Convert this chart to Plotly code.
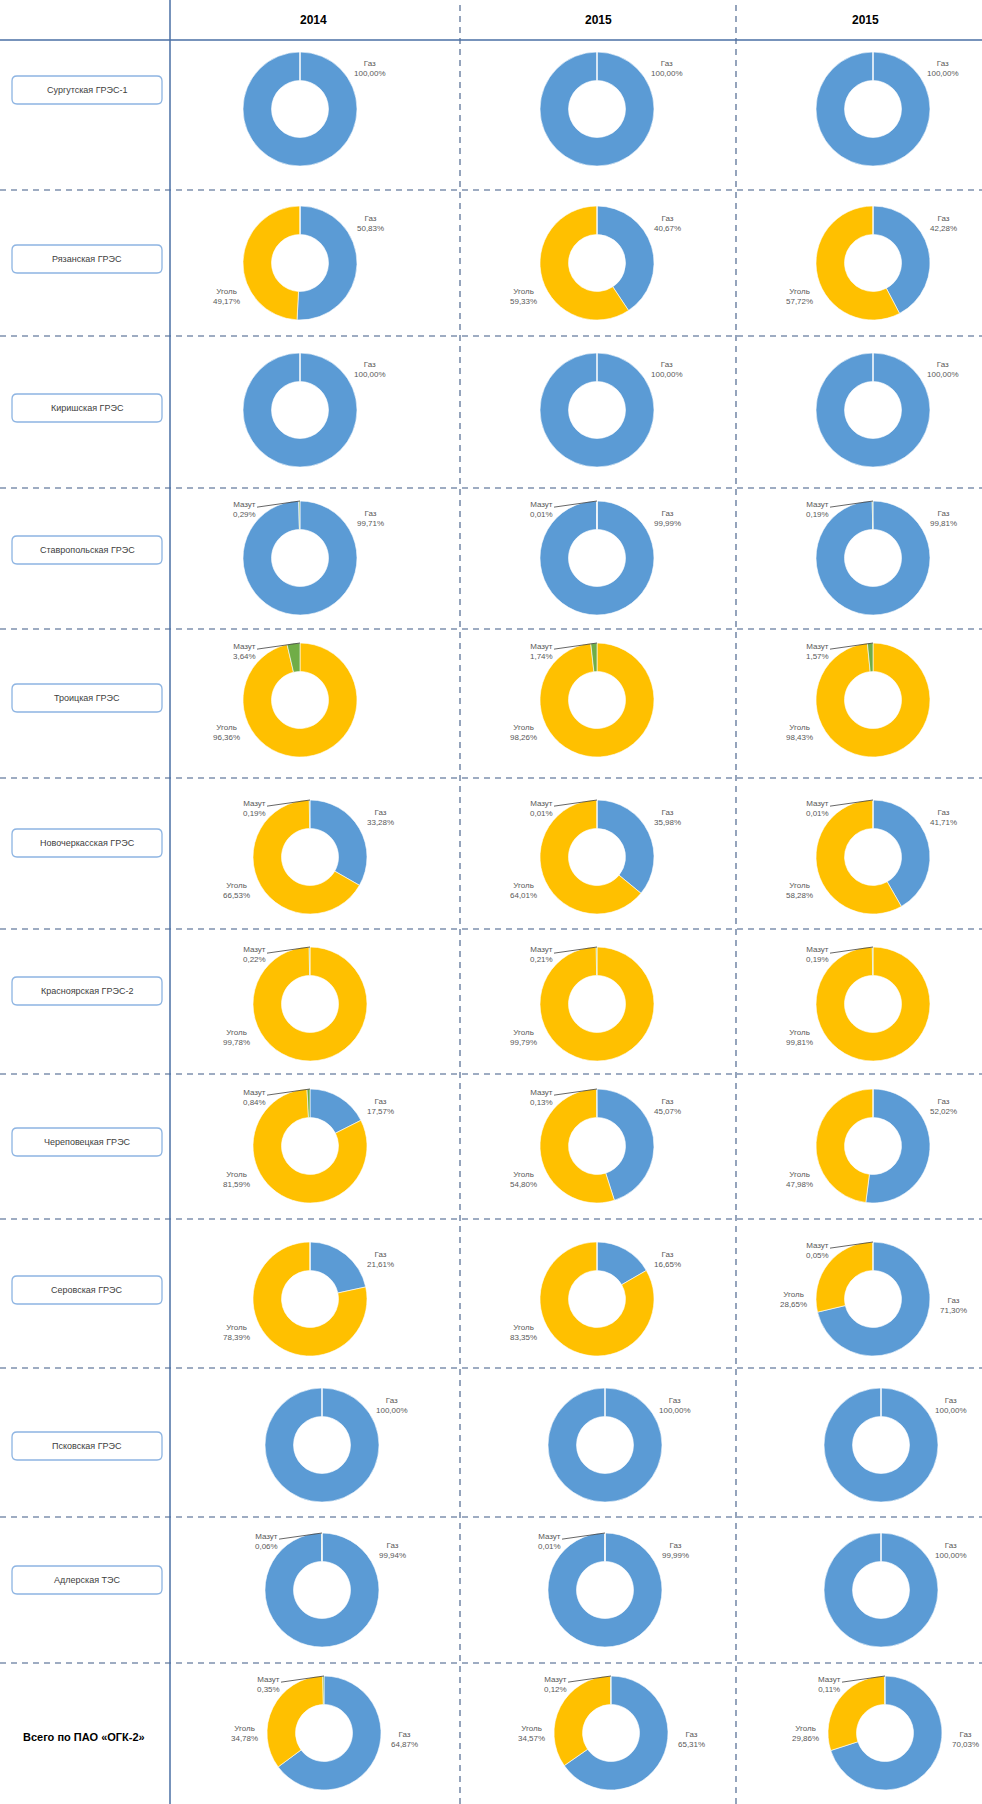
import plotly.graph_objects as go

W, H = 982, 1804

stations = ["Сургутская ГРЭС-1", "Рязанская ГРЭС", "Киришская ГРЭС", "Ставропольская ГРЭС",
            "Троицкая ГРЭС", "Новочеркасская ГРЭС", "Красноярская ГРЭС-2", "Череповецкая ГРЭС",
            "Серовская ГРЭС", "Псковская ГРЭС", "Адлерская ТЭС", "Всего по ПАО «ОГК-2»"]
years = ["2014", "2015", "2015"]
fuels = ["Газ", "Уголь", "Мазут"]

gas = [[100, 100, 100], [50.83, 40.67, 42.28], [100, 100, 100], [99.71, 99.99, 99.81],
       [0, 0, 0], [33.28, 35.98, 41.71], [0, 0, 0], [17.57, 45.07, 52.02],
       [21.61, 16.65, 71.30], [100, 100, 100], [99.94, 99.99, 100], [64.87, 65.31, 70.03]]
coal = [[0, 0, 0], [49.17, 59.33, 57.72], [0, 0, 0], [0, 0, 0],
        [96.36, 98.26, 98.43], [66.53, 64.01, 58.28], [99.78, 99.79, 99.81], [81.59, 54.80, 47.98],
        [78.39, 83.35, 28.65], [0, 0, 0], [0, 0, 0], [34.78, 34.57, 29.86]]
fuel_oil = [[0, 0, 0], [0, 0, 0], [0, 0, 0], [0.29, 0.01, 0.19],
            [3.64, 1.74, 1.57], [0.19, 0.01, 0.01], [0.22, 0.21, 0.19], [0.84, 0.13, 0],
            [0, 0, 0.05], [0, 0, 0], [0.06, 0.01, 0], [0.35, 0.12, 0.11]]

colors = ["#5B9BD5", "#FFC000", "#70AD47"]

# ---- layout geometry (pixels) ----
row_cy = [109, 263, 410, 558, 700, 857, 1004, 1146, 1299, 1445, 1590, 1733]
col_cx = [300, 597, 873]
col_shift = [[0, 0, 0]] * 5 + [[10, 0, 0]] * 4 + [[22, 8, 8], [22, 8, 8], [24, 14, 12]]
R = 57
box_cy = [90, 259, 408, 550, 698, 843, 991, 1142, 1290, 1446, 1580]
total_cy = 1737
sep_y = [190, 336, 488, 629, 778, 929, 1074, 1219, 1368, 1517, 1663]
vdash_x = [460, 736]
header_x = [313, 598, 865]

FONT = "Liberation Sans Narrow, Arial Narrow, Liberation Sans, Arial, sans-serif"
LINE = "#3E5A85"


def X(px):
    return px / W


def Y(py):
    return 1 - py / H


def fmt(v):
    return f"{v:.2f}".replace(".", ",") + "%"


def note(x, y, text, font, **kw):
    d = dict(x=X(x), y=Y(y), xref="paper", yref="paper", text=text, showarrow=False,
             font=font, xanchor="center", yanchor="middle", align="center")
    d.update(kw)
    return d


fig = go.Figure()
annotations = []
shapes = []

for r in range(len(stations)):
    for c in range(len(years)):
        cx = col_cx[c] + col_shift[r][c]
        cy = row_cy[r]
        vals = [gas[r][c], coal[r][c], fuel_oil[r][c]]
        fig.add_trace(go.Pie(
            labels=fuels, values=vals, hole=0.5, sort=False, direction="clockwise",
            rotation=0, textinfo="none", hoverinfo="label+percent",
            marker=dict(colors=colors, line=dict(color="white", width=0.6)),
            domain=dict(x=[X(cx - R), X(cx + R)], y=[Y(cy + R), Y(cy - R)]),
            showlegend=False,
        ))
        gas_dom = gas[r][c] > 60 and coal[r][c] > 0
        lab_font = dict(family=FONT, size=8, color="#595959")
        if gas[r][c] > 0:
            dx, dy = (80, 6) if gas_dom else (70, -40)
            annotations.append(note(cx + dx, cy + dy, f"Газ<br>{fmt(gas[r][c])}", lab_font))
        if coal[r][c] > 0:
            dx, dy = (-80, 0) if gas_dom else (-74, 33)
            annotations.append(note(cx + dx, cy + dy, f"Уголь<br>{fmt(coal[r][c])}", lab_font))
        if fuel_oil[r][c] > 0:
            annotations.append(note(cx, cy - R, f"Мазут<br>{fmt(fuel_oil[r][c])}", lab_font,
                                    showarrow=True, ax=-56, ay=8, arrowhead=0,
                                    arrowwidth=0.8, arrowcolor="#404040"))


def rrect(x0, y0, x1, y1, rad):
    rx, ry = rad / W, rad / H
    a0, a1 = X(x0), X(x1)
    b0, b1 = Y(y1), Y(y0)
    return (f"M {a0+rx},{b1} L {a1-rx},{b1} Q {a1},{b1} {a1},{b1-ry} "
            f"L {a1},{b0+ry} Q {a1},{b0} {a1-rx},{b0} L {a0+rx},{b0} "
            f"Q {a0},{b0} {a0},{b0+ry} L {a0},{b1-ry} Q {a0},{b1} {a0+rx},{b1} Z")


for i, cy in enumerate(box_cy):
    shapes.append(dict(type="path", xref="paper", yref="paper", layer="below",
                       path=rrect(12, cy - 14, 162, cy + 14, 5),
                       line=dict(color="#8DB4E2", width=1.3), fillcolor="white"))
    annotations.append(note(87, cy, stations[i], dict(family=FONT, size=9, color="#404040")))

annotations.append(note(84, total_cy, f"<b>{stations[-1]}</b>",
                        dict(family=FONT, size=11, color="#000000")))

for i, hx in enumerate(header_x):
    annotations.append(note(hx, 20, f"<b>{years[i]}</b>",
                            dict(family=FONT, size=12, color="#000000")))

for sy in sep_y:
    shapes.append(dict(type="line", xref="paper", yref="paper", x0=0, x1=1, y0=Y(sy), y1=Y(sy),
                       layer="below", line=dict(color=LINE, width=1.1, dash="6px,5px")))
for vx in vdash_x:
    shapes.append(dict(type="line", xref="paper", yref="paper", x0=X(vx), x1=X(vx), y0=0, y1=1,
                       layer="below", line=dict(color=LINE, width=1.1, dash="6px,5px")))
shapes.append(dict(type="line", xref="paper", yref="paper", x0=0, x1=1, y0=Y(40), y1=Y(40),
                   layer="below", line=dict(color="#4A6FA5", width=1.5)))
shapes.append(dict(type="line", xref="paper", yref="paper", x0=X(170), x1=X(170), y0=0, y1=1,
                   layer="below", line=dict(color="#4A6FA5", width=1.5)))

fig.update_layout(width=W, height=H, autosize=False,
                  margin=dict(l=0, r=0, t=0, b=0),
                  paper_bgcolor="white", plot_bgcolor="white",
                  shapes=shapes, annotations=annotations, showlegend=False)

fig.write_html("out.html", config={"displayModeBar": False},
               post_script="document.body.style.margin='0';")
